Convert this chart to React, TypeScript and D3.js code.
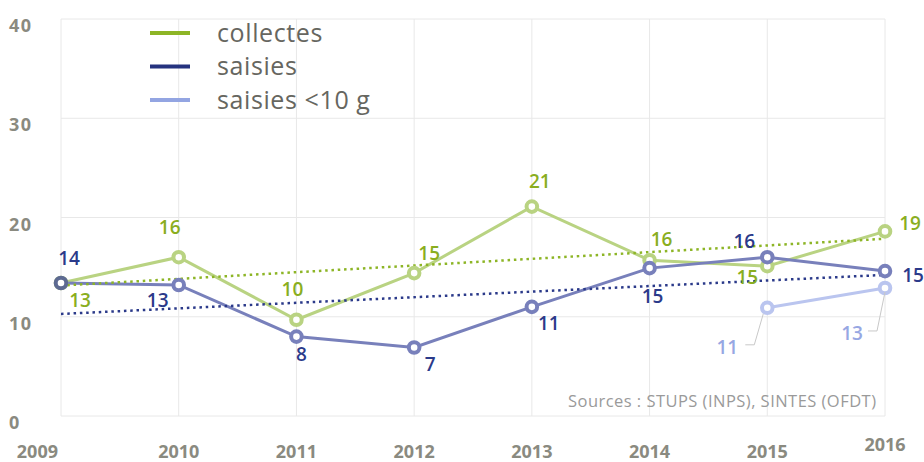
import React from "react";
import * as d3 from "d3";

const years = [2009, 2010, 2011, 2012, 2013, 2014, 2015, 2016];
const collectes = [13.4, 16.0, 9.7, 14.4, 21.1, 15.7, 15.1, 18.6];
const saisies = [13.4, 13.2, 8.0, 6.9, 11.0, 14.9, 16.0, 14.6];
const saisiesSmall: (number | null)[] = [null, null, null, null, null, null, 10.9, 12.9];
const collectesLabels = ["13", "16", "10", "15", "21", "16", "15", "19"];
const saisiesLabels = ["14", "13", "8", "7", "11", "15", "16", "15"];
const saisiesSmallLabels = ["", "", "", "", "", "", "11", "13"];
const yTicks = [0, 10, 20, 30, 40];
const legendNames = ["collectes", "saisies", "saisies <10 g"];
const sourceText = "Sources : STUPS (INPS), SINTES (OFDT)";

// layout (label offsets relative to points)
const collectesOff = [[19, 17], [-9, -30], [-4, -31], [15, -20], [8, -25], [12, -21], [-20, 11], [25, -8]];
const saisiesOff = [[8, -25], [-21, 15], [5, 18], [16, 17], [17, 16], [3, 28], [-23, -16], [28, 4]];
const smallOff = [[0, 0], [0, 0], [0, 0], [0, 0], [0, 0], [0, 0], [-40, 39], [-33, 45]];
const smallLeader = [null, null, null, null, null, null,
  [[-4, 6], [-13, 37], [-22, 37]], [[0, 4], [-8, 43], [-17, 43]]];

const W = 924, H = 462;
const x = d3.scaleLinear().domain([2009, 2016]).range([61, 885]);
const y = d3.scaleLinear().domain([0, 40]).range([416, 19]);

const C = {
  grid: "#e8e8e8",
  axis: "#8a8a80",
  greenLeg: "#8db526",
  greenLine: "#b9d382",
  greenText: "#8aae1f",
  navyLeg: "#25337f",
  navyLine: "#7880bb",
  navyText: "#2b3a8a",
  lightLeg: "#93a5e2",
  lightLine: "#bac5ef",
  lightText: "#97a7e3",
};

function regression(xs: number[], ys: number[]) {
  const mx = d3.mean(xs)!, my = d3.mean(ys)!;
  let sxy = 0, sxx = 0;
  xs.forEach((v, i) => { sxy += (v - mx) * (ys[i] - my); sxx += (v - mx) ** 2; });
  const b = sxy / sxx;
  const a = my - b * mx;
  return (v: number) => a + b * v;
}

const FONT = "'Open Sans', sans-serif";

export default function App() {
  const line = d3.line<[number, number | null]>()
    .defined((d) => d[1] != null)
    .x((d) => x(d[0]))
    .y((d) => y(d[1] as number));

  const trendC = regression(years, collectes);
  const trendS = regression(years, saisies);
  const x0 = years[0], x1 = years[years.length - 1];

  const series = [
    { vals: collectes as (number | null)[], line: C.greenLine, text: C.greenText, labels: collectesLabels, off: collectesOff },
    { vals: saisies as (number | null)[], line: C.navyLine, text: C.navyText, labels: saisiesLabels, off: saisiesOff },
    { vals: saisiesSmall, line: C.lightLine, text: C.lightText, labels: saisiesSmallLabels, off: smallOff },
  ];

  return (
    <svg width={W} height={H} style={{ position: "absolute", left: 0, top: 0, background: "#fff" }}>
      {/* grid */}
      {years.map((yr) => (
        <line key={"v" + yr} x1={x(yr)} x2={x(yr)} y1={y(40)} y2={y(0)} stroke={C.grid} strokeWidth={1} />
      ))}
      {yTicks.map((t) => (
        <line key={"h" + t} x1={x(2009)} x2={x(2016)} y1={y(t)} y2={y(t)} stroke={C.grid} strokeWidth={1} />
      ))}
      {/* y labels */}
      {yTicks.map((t) => (
        <text key={"yl" + t} x={9} y={y(t) + 13} fontFamily={FONT} fontWeight={700} fontSize={18} letterSpacing={1.5} fill={C.axis}>{t}</text>
      ))}
      {/* x labels */}
      {years.map((yr, i) => (
        <text key={"xl" + yr}
          x={i === 0 ? x(yr) - 3 : x(yr)}
          y={i === years.length - 1 ? 451 : 458}
          textAnchor={i === 0 ? "end" : "middle"}
          fontFamily={FONT} fontWeight={700} fontSize={18} fill={C.axis}>{yr}</text>
      ))}
      {/* source */}
      <text x={568} y={407} textLength={308} lengthAdjust="spacing" fontFamily={FONT} fontSize={16.5} fill="#9a9a9a">{sourceText}</text>

      {/* series lines */}
      {series.map((s, si) => (
        <path key={"l" + si} d={line(years.map((yr, i) => [yr, s.vals[i]]))!} fill="none" stroke={s.line} strokeWidth={3} />
      ))}
      {/* trend lines */}
      <line x1={x(x0)} y1={y(trendC(x0))} x2={x(x1)} y2={y(trendC(x1))} stroke={C.greenLeg} strokeWidth={2.5} strokeDasharray="2.5 3.8" />
      <line x1={x(x0)} y1={y(trendS(x0))} x2={x(x1)} y2={y(trendS(x1))} stroke={C.navyText} strokeWidth={2.5} strokeDasharray="2.5 3.8" />

      {/* markers */}
      {series.map((s, si) =>
        years.map((yr, i) => s.vals[i] == null ? null : (
          <circle key={"m" + si + i} cx={x(yr)} cy={y(s.vals[i] as number)} r={5.3}
            fill="#fff" stroke={si === 1 && i === 0 ? "#5d6a92" : s.line} strokeWidth={4} />
        ))
      )}

      {/* leader lines */}
      {years.map((yr, i) => {
        const L = smallLeader[i];
        const v = saisiesSmall[i];
        if (!L || v == null) return null;
        const px = x(yr), py = y(v);
        return <polyline key={"ld" + i} points={L.map((p) => `${px + p[0]},${py + p[1]}`).join(" ")} fill="none" stroke="#c8c8c8" strokeWidth={1} />;
      })}

      {/* data labels */}
      {series.map((s, si) =>
        years.map((yr, i) => s.vals[i] == null ? null : (
          <text key={"t" + si + i} x={x(yr) + s.off[i][0]} y={y(s.vals[i] as number) + s.off[i][1]} dy="0.36em"
            textAnchor="middle" fontFamily={FONT} fontWeight={600} fontSize={19} fill={s.text}>{s.labels[i]}</text>
        ))
      )}

      {/* legend */}
      {legendNames.map((n, i) => (
        <g key={"lg" + i} transform={`translate(150, ${33 + i * 33.5})`}>
          <line x1={0} x2={40} y1={0} y2={0} stroke={[C.greenLeg, C.navyLeg, C.lightLeg][i]} strokeWidth={4} />
          <text x={67} y={0} dy="0.35em" fontFamily={FONT} fontSize={25} letterSpacing={0.6} fill="#666660">{n}</text>
        </g>
      ))}
    </svg>
  );
}
